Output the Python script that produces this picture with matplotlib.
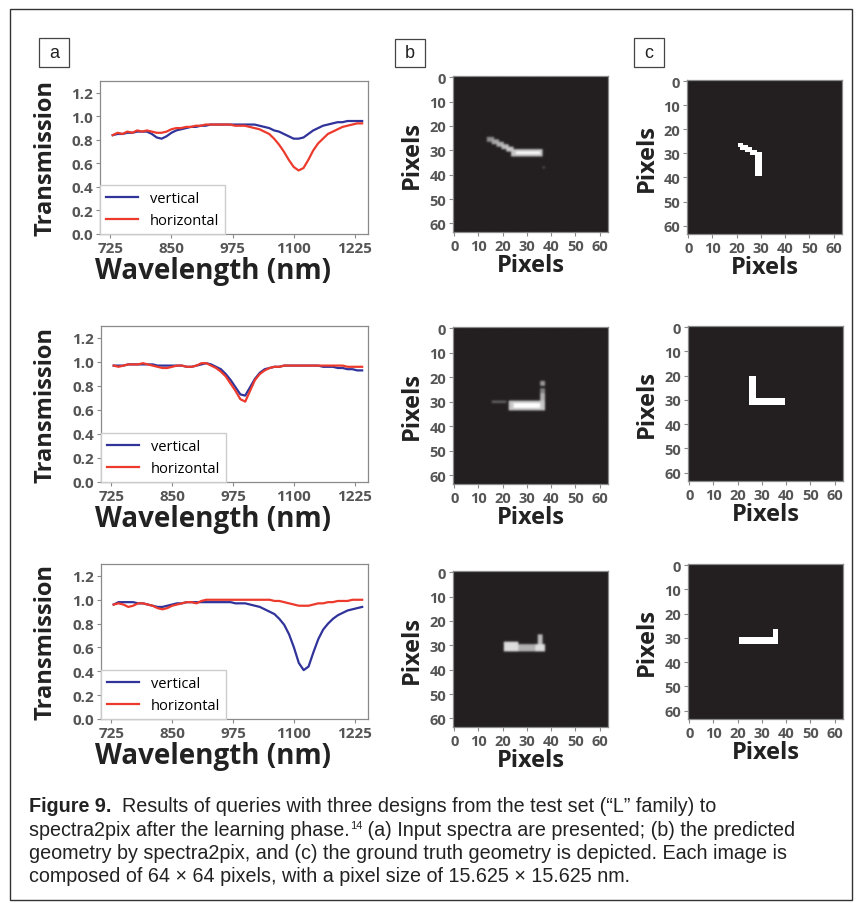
import matplotlib
matplotlib.use('Agg')
import matplotlib.pyplot as plt
import numpy as np
from matplotlib.colors import LinearSegmentedColormap
from matplotlib.patches import Rectangle

plt.rcParams['font.family'] = ['Open Sans', 'DejaVu Sans']

# ---- spectra, wavelength in nm ----
wavelength = [730, 740, 750, 760, 770, 780, 790, 800, 810, 820,
              830, 840, 850, 860, 870, 880, 890, 900, 910, 920,
              930, 940, 950, 960, 970, 980, 990, 1000, 1010, 1020,
              1030, 1040, 1050, 1060, 1070, 1080, 1090, 1100, 1110, 1120,
              1130, 1140, 1150, 1160, 1170, 1180, 1190, 1200, 1210, 1220,
              1230, 1240]

vert1 = [0.84, 0.85, 0.85, 0.86, 0.86, 0.87, 0.87, 0.87, 0.85, 0.82,
         0.81, 0.83, 0.86, 0.88, 0.89, 0.90, 0.91, 0.91, 0.92, 0.92,
         0.93, 0.93, 0.93, 0.93, 0.93, 0.93, 0.93, 0.93, 0.93, 0.93,
         0.92, 0.91, 0.90, 0.88, 0.87, 0.85, 0.83, 0.81, 0.81, 0.82,
         0.85, 0.88, 0.90, 0.92, 0.93, 0.94, 0.95, 0.95, 0.96, 0.96,
         0.96, 0.96]
horiz1 = [0.84, 0.86, 0.85, 0.87, 0.86, 0.88, 0.87, 0.88, 0.87, 0.86,
          0.86, 0.87, 0.89, 0.90, 0.90, 0.91, 0.91, 0.92, 0.92, 0.93,
          0.93, 0.93, 0.93, 0.93, 0.93, 0.92, 0.92, 0.92, 0.91, 0.90,
          0.89, 0.87, 0.85, 0.81, 0.76, 0.70, 0.63, 0.57, 0.54, 0.56,
          0.63, 0.71, 0.77, 0.81, 0.85, 0.87, 0.89, 0.91, 0.92, 0.93,
          0.94, 0.94]

vert2 = [0.97, 0.97, 0.97, 0.98, 0.98, 0.98, 0.98, 0.98, 0.98, 0.97,
         0.97, 0.97, 0.97, 0.97, 0.97, 0.96, 0.96, 0.97, 0.98, 0.99,
         0.98, 0.96, 0.94, 0.90, 0.85, 0.79, 0.73, 0.72, 0.79, 0.86,
         0.91, 0.94, 0.95, 0.96, 0.96, 0.97, 0.97, 0.97, 0.97, 0.97,
         0.97, 0.97, 0.97, 0.96, 0.96, 0.96, 0.95, 0.95, 0.94, 0.94,
         0.93, 0.93]
horiz2 = [0.97, 0.96, 0.97, 0.98, 0.98, 0.98, 0.99, 0.98, 0.97, 0.96,
          0.95, 0.95, 0.96, 0.97, 0.97, 0.96, 0.96, 0.97, 0.99, 0.99,
          0.97, 0.95, 0.92, 0.88, 0.82, 0.76, 0.69, 0.67, 0.76, 0.85,
          0.90, 0.93, 0.95, 0.96, 0.96, 0.97, 0.97, 0.97, 0.97, 0.97,
          0.97, 0.97, 0.97, 0.97, 0.97, 0.97, 0.97, 0.97, 0.96, 0.96,
          0.96, 0.96]

vert3 = [0.96, 0.98, 0.98, 0.98, 0.98, 0.97, 0.97, 0.96, 0.95, 0.94,
         0.94, 0.95, 0.96, 0.97, 0.97, 0.98, 0.98, 0.98, 0.98, 0.98,
         0.98, 0.98, 0.98, 0.98, 0.98, 0.97, 0.97, 0.97, 0.96, 0.95,
         0.94, 0.92, 0.90, 0.88, 0.84, 0.79, 0.71, 0.60, 0.47, 0.41,
         0.44, 0.56, 0.67, 0.75, 0.80, 0.84, 0.87, 0.89, 0.91, 0.92,
         0.93, 0.94]
horiz3 = [0.96, 0.97, 0.96, 0.94, 0.95, 0.97, 0.97, 0.96, 0.95, 0.93,
          0.92, 0.93, 0.95, 0.96, 0.97, 0.98, 0.98, 0.97, 0.99, 1.00,
          1.00, 1.00, 1.00, 1.00, 1.00, 1.00, 1.00, 1.00, 1.00, 1.00,
          1.00, 1.00, 1.00, 0.99, 0.99, 0.98, 0.97, 0.96, 0.95, 0.95,
          0.95, 0.96, 0.97, 0.97, 0.98, 0.98, 0.99, 0.99, 0.99, 1.00,
          1.00, 1.00]

# ---- 64x64 geometries as blocks: (row0, row1, col0, col1, value) ----
pred1 = [(25, 27, 14, 17, 0.5), (26, 28, 16, 19, 0.6), (27, 29, 18, 21, 0.65),
         (28, 30, 20, 23, 0.7), (29, 31, 22, 25, 0.75), (30, 33, 24, 37, 0.75),
         (31, 32, 26, 36, 1.0), (37, 38, 37, 38, 0.2)]
pred2 = [(30, 31, 16, 22, 0.3), (30, 34, 23, 38, 0.75), (31, 33, 25, 36, 1.0),
         (22, 24, 36, 38, 0.55), (25, 27, 36, 38, 0.45), (27, 31, 36, 38, 0.65)]
pred3 = [(29, 33, 21, 27, 0.85), (30, 33, 26, 36, 0.65), (30, 33, 34, 38, 0.85),
         (26, 30, 35, 37, 0.7)]
truth1 = [(26, 28, 21, 23, 1), (27, 29, 22, 25, 1), (28, 30, 24, 27, 1),
          (29, 31, 26, 29, 1), (30, 40, 28, 31, 1)]
truth2 = [(21, 33, 25, 28, 1), (30, 33, 25, 40, 1)]
truth3 = [(30, 33, 21, 37, 1), (27, 33, 35, 37, 1)]

spectra = [(vert1, horiz1), (vert2, horiz2), (vert3, horiz3)]
predicted = [pred1, pred2, pred3]
truth = [truth1, truth2, truth3]

W, H = 857, 904
fig = plt.figure(figsize=(W / 100, H / 100), dpi=100)


def box(l, t, r, b):
    return [l / W, 1 - b / H, (r - l) / W, (b - t) / H]


def make_img(blocks):
    img = np.zeros((64, 64))
    for r0, r1, c0, c1, v in blocks:
        img[r0:r1, c0:c1] = np.maximum(img[r0:r1, c0:c1], v)
    return img


tick_c = '#555555'
spine_c = '#8a8a8a'
blue = '#30339a'
red = '#ec3a2c'
cmap = LinearSegmentedColormap.from_list('dark', ['#231f20', '#ffffff'])

a_boxes = [(100, 82, 368, 235), (101, 327, 368, 483), (101, 565, 368, 720)]
b_boxes = [(453, 77, 608, 233), (453, 328, 608, 485), (453, 572, 608, 728)]
c_boxes = [(687, 81, 842, 235), (688, 327, 843, 482), (688, 565, 843, 720)]


def style(ax):
    for s in ax.spines.values():
        s.set_color(spine_c)
        s.set_linewidth(0.9)
    ax.tick_params(colors=spine_c, labelcolor=tick_c, length=3, width=0.8, pad=2)


for i in range(3):
    # spectra panel
    ax = fig.add_axes(box(*a_boxes[i]))
    v, h = spectra[i]
    ax.plot(wavelength, v, color=blue, lw=1.6, label='vertical')
    ax.plot(wavelength, h, color=red, lw=1.6, label='horizontal')
    ax.set_xlim(704, 1252)
    ax.set_ylim(0, 1.3)
    xt = [725, 850, 975, 1100, 1225]
    yt = [0.0, 0.2, 0.4, 0.6, 0.8, 1.0, 1.2]
    ax.set_xticks(xt, labels=[str(t) for t in xt], fontsize=11, fontweight='bold')
    ax.set_yticks(yt, labels=['%.1f' % t for t in yt], fontsize=11, fontweight='bold')
    style(ax)
    leg = ax.legend(loc='lower left', fontsize=10.5, borderaxespad=0,
                    handlelength=2.2, fancybox=False, framealpha=1)
    leg.get_frame().set_edgecolor('#cccccc')
    l, t, r, b = a_boxes[i]
    fig.text(46 / W, 1 - (t + b) / 2 / H, 'Transmission', rotation=90, ha='center',
             va='center', fontsize=17, fontweight='bold', color='#222222')
    fig.text(213 / W, 1 - (b + 37) / H, 'Wavelength (nm)', ha='center',
             va='center', fontsize=20, fontweight='bold', color='#222222')

    # predicted (soft) and ground-truth (sharp) images
    for boxes, blocks, interp, ylx in [(b_boxes, predicted[i], 'gaussian', 412),
                                       (c_boxes, truth[i], 'nearest', 647)]:
        ax = fig.add_axes(box(*boxes[i]))
        ax.imshow(make_img(blocks), cmap=cmap, vmin=0, vmax=1,
                  interpolation=interp, aspect='auto')
        pt = [0, 10, 20, 30, 40, 50, 60]
        ax.set_xticks(pt, labels=[str(t) for t in pt], fontsize=10.5, fontweight='bold')
        ax.set_yticks(pt, labels=[str(t) for t in pt], fontsize=10.5, fontweight='bold')
        style(ax)
        l, t, r, b = boxes[i]
        fig.text(ylx / W, 1 - (t + b) / 2 / H, 'Pixels', rotation=90, ha='center',
                 va='center', fontsize=17, fontweight='bold', color='#222222')
        fig.text((l + r) / 2 / W, 1 - (b + 33) / H, 'Pixels', ha='center',
                 va='center', fontsize=17, fontweight='bold', color='#222222')

# panel letters in boxes
for letter, (l, t, r, b) in [('a', (39, 39, 69, 68)), ('b', (395, 40, 425, 68)),
                             ('c', (634, 39, 664, 68))]:
    fig.add_artist(Rectangle((l / W, 1 - b / H), (r - l) / W, (b - t) / H,
                             transform=fig.transFigure, fill=False,
                             edgecolor='#444444', lw=0.9))
    fig.text((l + r) / 2 / W, 1 - (t + b) / 2 / H, letter, ha='center', va='center',
             fontsize=13, family='Liberation Sans', color='#222222')

# outer frame
fig.add_artist(Rectangle((10 / W, 1 - 901 / H), 842 / W, 891 / H,
                         transform=fig.transFigure, fill=False,
                         edgecolor='#333333', lw=1.0))

# caption
renderer = fig.canvas.get_renderer()
cap = dict(family='Liberation Sans', fontsize=14.2, color='#222222', va='baseline')


def runs(x, y, parts):
    for s, kw in parts:
        opts = dict(cap)
        opts.update(kw)
        dy = opts.pop('dy', 0)
        txt = fig.text(x / W, 1 - (y - dy) / H, s, **opts)
        x += txt.get_window_extent(renderer).width


runs(29, 812, [('Figure 9.', {'fontweight': 'bold'}),
               ('  Results of queries with three designs from the test set (\u201cL\u201d family) to', {})])
runs(29, 836, [('spectra2pix after the learning phase.', {}),
               ('14', {'fontsize': 8, 'dy': 7}),
               (' (a) Input spectra are presented; (b) the predicted', {})])
runs(29, 859, [('geometry by spectra2pix, and (c) the ground truth geometry is depicted. Each image is', {})])
runs(29, 882, [('composed of 64 \u00d7 64 pixels, with a pixel size of 15.625 \u00d7 15.625 nm.', {})])

fig.savefig('out.png', dpi=100)
